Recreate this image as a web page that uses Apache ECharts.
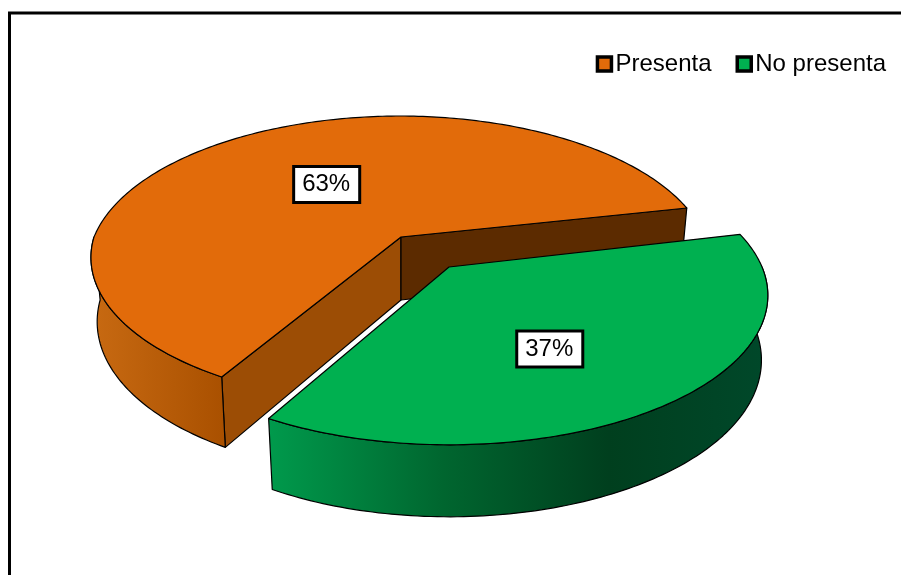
<!DOCTYPE html>
<html>
<head>
<meta charset="utf-8">
<style>html,body{margin:0;padding:0;background:#fff}#c{width:901px;height:575px}</style>
<script src="https://cdn.jsdelivr.net/npm/echarts@6/dist/echarts.min.js"></script>
</head>
<body>
<div id="c"></div>
<script>
const categories = ['Presenta', 'No presenta'];
const values = [63, 37];
const labels = ['63%', '37%'];

const topColors = ['#E26B0A', '#00B050'];
const cutColors = [['#9C4D05', '#5C2B00'], [null, null]];
const wallStops = [
  [[0, '#C86A12'], [1, '#A95000']],
  [[0, '#009A4C'], [0.35, '#00662F'], [0.68, '#003F1E'], [1, '#00482A']]
];
const apexes = [[401, 237], [449, 267]];
const radiiX = [307, 313];
const rimSquash = [0.05, 0];
const rightTrim = [0.01, 0];
const sliceTurn = [0, -1.5];
const sweepTrim = [0, -0.8];
const labelRadius = [0.47, 0.59];
const labelTurn = [2, 8];

const RY = 144, PERSP = 0.19, DEPTH = 63, DEPTH_NEAR = 9, BOTTOM_SCALE = 0.98;
const START = 121;
const total = values.reduce((a, b) => a + b, 0);

function project(i, a, r, lower) {
  const t = a * Math.PI / 180;
  const s = Math.sin(t), c = Math.cos(t);
  const rr = r * (1 - rimSquash[i] * Math.max(0, s)) * (1 - rightTrim[i] * Math.max(0, c));
  const u = rr * c, v = rr * s;
  const d = 1 - PERSP * v;
  let x = radiiX[i] * u / d, y = RY * v / d;
  if (lower) { x *= BOTTOM_SCALE; y += DEPTH + DEPTH_NEAR * v; }
  return [apexes[i][0] + x, apexes[i][1] + y];
}
function arc(i, a0, a1, lower) {
  const n = Math.max(2, Math.ceil(Math.abs(a1 - a0)));
  const out = [];
  for (let k = 0; k <= n; k++) out.push(project(i, a0 + (a1 - a0) * k / n, 1, lower));
  return out;
}
function poly(points, fill) {
  return { type: 'polygon', shape: { points },
    style: { fill, stroke: '#000', lineWidth: 1.2, lineJoin: 'round' } };
}
function renderSlice(i) {
  let before = 0;
  for (let k = 0; k < i; k++) before += values[k];
  const a0 = START + sliceTurn[i] + before / total * 360;
  const a1 = a0 + values[i] / total * 360 + sweepTrim[i];
  const children = [];
  [a0, a1].forEach((a, j) => {
    if (cutColors[i][j]) {
      children.push(poly([
        project(i, 0, 0, false), project(i, a, 1, false),
        project(i, a, 1, true), project(i, 0, 0, true)
      ], cutColors[i][j]));
    }
  });
  // only the front half of the rim (screen angles 0..180) can be seen
  const turn = a1 > 360 ? 360 : 0;
  const w0 = Math.max(a0, turn), w1 = Math.min(a1, turn + 180);
  const upper = arc(i, w0, w1, false), lower = arc(i, w0, w1, true);
  children.push(poly(upper.concat(lower.slice().reverse()), {
    type: 'linear', x: 0, y: 0, x2: 1, y2: 0,
    colorStops: wallStops[i].map(s => ({ offset: s[0], color: s[1] }))
  }));
  children.push(poly([project(i, 0, 0, false)].concat(arc(i, a0, a1, false)), topColors[i]));
  const p = project(i, (a0 + a1) / 2 + labelTurn[i], labelRadius[i], false);
  children.push({
    type: 'text', z2: 10,
    style: {
      text: labels[i], x: p[0], y: p[1], align: 'center', verticalAlign: 'middle',
      font: '24px "Liberation Sans", Arial, sans-serif', fill: '#000',
      backgroundColor: '#fff', borderColor: '#000', borderWidth: 3,
      padding: [5, 8, 4, 7]
    }
  });
  return { type: 'group', children };
}

const chart = echarts.init(document.getElementById('c'), null, { renderer: 'canvas' });
chart.setOption({
  animation: false,
  backgroundColor: '#fff',
  legend: {
    data: categories, right: 10, top: 47, icon: 'rect', itemWidth: 14, itemHeight: 14,
    itemGap: 24, selectedMode: false,
    itemStyle: { borderColor: '#000', borderWidth: 3.5 },
    textStyle: { fontFamily: '"Liberation Sans", Arial, sans-serif', fontSize: 24, color: '#000', padding: [0, 0, 0, -1] }
  },
  graphic: [{
    type: 'polyline', silent: true,
    shape: { points: [[9.5, 580], [9.5, 13], [905, 13]] },
    style: { stroke: '#000', fill: null, lineWidth: 3 }
  }],
  series: categories.map((name, i) => ({
    type: 'custom', name, coordinateSystem: 'none', silent: true,
    itemStyle: { color: topColors[i] },
    data: [[values[i]]],
    z: 2 + i,
    renderItem: () => renderSlice(i)
  }))
});
</script>
</body>
</html>
